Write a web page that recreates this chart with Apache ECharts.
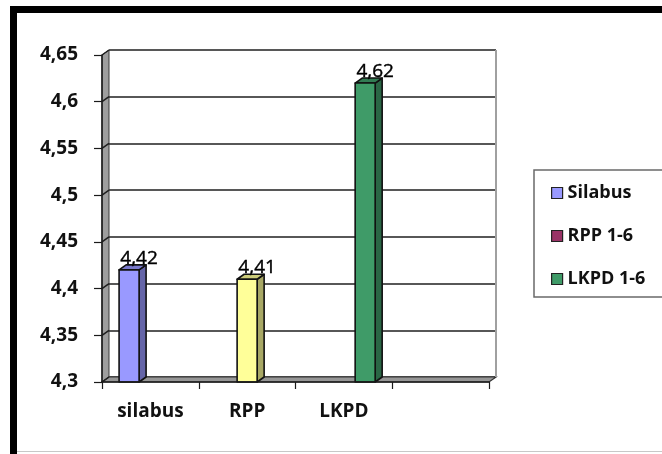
<!DOCTYPE html>
<html>
<head>
<meta charset="utf-8">
<script src="https://cdn.jsdelivr.net/npm/echarts@6/dist/echarts.min.js"></script>
<style>
  html, body { margin: 0; padding: 0; background: #fff; }
  #chart { width: 662px; height: 454px; }
</style>
</head>
<body>
<div id="chart"></div>
<script>
// Categories on the horizontal axis (the last slot is left empty)
const categories = ['silabus', 'RPP', 'LKPD', ''];
// Legend / series names
const seriesNames = ['Silabus', 'RPP 1-6', 'LKPD 1-6'];
// Values per series, one entry per category
const silabusValues = [4.42, null, null, null];
const rppValues = [null, 4.41, null, null];
const lkpdValues = [null, null, 4.62, null];
// Value axis
const yMin = 4.3, yMax = 4.65, yStep = 0.05;
const yTickLabels = ['4,3', '4,35', '4,4', '4,45', '4,5', '4,55', '4,6', '4,65'];

// ---- styling ----
const FONT = "'Open Sans', sans-serif";
const FRONT = { left: 102, top: 55, width: 387, height: 327 };
const DX = 7, DY = -5;            // depth offset of the 3D box
const SLOT_RATIO = 0.22;          // share of a category band per bar
const seriesColors = ['#9999ff', '#993366', '#3f9b68'];
const pointColors = { 'RPP 1-6': { 1: '#ffff99' } };

// scale rgb channels towards black
function shade(color, factor) {
  const c = echarts.color.parse(color);
  return 'rgb(' + [0, 1, 2].map(i => Math.round(c[i] * factor)).join(',') + ')';
}

function toData(name, values) {
  const out = [];
  values.forEach((v, i) => {
    if (v == null) return;
    const item = { value: [i, v] };
    const c = pointColors[name] && pointColors[name][i];
    if (c) item.itemStyle = { color: c };
    out.push(item);
  });
  return out;
}

function renderBar3D(params, api) {
  const cat = api.value(0), val = api.value(1);
  const band = api.size([1, 0])[0];
  const slot = band * SLOT_RATIO;
  const w = slot * 0.94;
  const base = api.coord([cat, yMin]);
  const top = api.coord([cat, val]);
  const x0 = base[0] + (params.seriesIndex - 1) * slot - w / 2;
  const x1 = x0 + w;
  const yT = top[1], yB = base[1];
  const color = api.visual('color');
  const side = shade(color, 0.66);
  const lid = shade(color, 0.8);
  const stroke = { stroke: '#111', lineWidth: 1.6, lineJoin: 'round' };
  const label = val.toFixed(2).replace('.', ',');
  return {
    type: 'group',
    children: [
      { type: 'polygon', shape: { points: [[x1, yT], [x1 + DX, yT + DY], [x1 + DX, yB + DY], [x1, yB]] },
        style: Object.assign({ fill: side }, stroke) },
      { type: 'polygon', shape: { points: [[x0, yT], [x0 + DX, yT + DY], [x1 + DX, yT + DY], [x1, yT]] },
        style: Object.assign({ fill: lid }, stroke) },
      { type: 'rect', shape: { x: x0, y: yT, width: w, height: yB - yT },
        style: Object.assign({ fill: color }, stroke) },
      { type: 'text', x: x0 + w / 2 + 10, y: yT + DY + 3,
        style: { text: label, font: '19px ' + FONT, fill: '#000', align: 'center', verticalAlign: 'bottom',
                 stroke: '#000', lineWidth: 0.4 } }
    ]
  };
}

const valueSets = [silabusValues, rppValues, lkpdValues];
const series = seriesNames.map((name, k) => ({
  name: name,
  type: 'custom',
  xAxisIndex: 0,
  yAxisIndex: 0,
  z: 5,
  itemStyle: { color: seriesColors[k] },
  encode: { x: 0, y: 1 },
  renderItem: renderBar3D,
  data: toData(name, valueSets[k])
}));

const chart = echarts.init(document.getElementById('chart'), null, { renderer: 'canvas' });

const option = {
  animation: false,
  backgroundColor: '#ffffff',
  grid: [
    { left: FRONT.left, top: FRONT.top, width: FRONT.width, height: FRONT.height },
    { left: FRONT.left + DX, top: FRONT.top + DY, width: FRONT.width, height: FRONT.height }
  ],
  xAxis: [
    {
      gridIndex: 0, type: 'category', data: categories, z: 6,
      axisLine: { lineStyle: { color: '#1a1a1a', width: 1.5 } },
      axisTick: { show: true, length: 7, alignWithLabel: false, lineStyle: { color: '#1a1a1a', width: 1.2 } },
      axisLabel: { margin: 20, color: '#111', fontFamily: FONT, fontWeight: 'bold', fontSize: 19 },
      splitLine: { show: false }
    },
    {
      gridIndex: 1, type: 'category', data: categories,
      axisLine: { show: false }, axisTick: { show: false }, axisLabel: { show: false }, splitLine: { show: false }
    }
  ],
  yAxis: [
    {
      gridIndex: 0, type: 'value', min: yMin, max: yMax, interval: yStep, z: 6,
      axisLine: { show: true, lineStyle: { color: '#1a1a1a', width: 1.5 } },
      axisTick: { show: true, length: 8, lineStyle: { color: '#1a1a1a', width: 1.2 } },
      axisLabel: {
        margin: 24, color: '#111', fontFamily: FONT, fontWeight: 'bold', fontSize: 19,
        formatter: (v, i) => yTickLabels[i]
      },
      splitLine: { show: false }
    },
    {
      gridIndex: 1, type: 'value', min: yMin, max: yMax, interval: yStep,
      axisLine: { show: false }, axisTick: { show: false }, axisLabel: { show: false },
      splitLine: { show: true, lineStyle: { color: '#1f1f1f', width: 1.6 } }
    }
  ],
  legend: {
    orient: 'vertical',
    left: 534, top: 170,
    padding: [14, 24, 9, 17],
    itemGap: 25,
    itemWidth: 11, itemHeight: 11,
    icon: 'rect',
    borderColor: '#6a6a6a', borderWidth: 1.5,
    itemStyle: { borderColor: '#222', borderWidth: 1.2 },
    textStyle: { fontFamily: FONT, fontWeight: 'bold', fontSize: 18, color: '#111' },
    data: seriesNames
  },
  series: series
};

chart.setOption(option);

// 3D walls, floor and outer frame, placed from the axis scale
const yPix = v => chart.convertToPixel({ yAxisIndex: 0 }, v);
const L = FRONT.left, R = FRONT.left + FRONT.width;
const yTop = yPix(yMax), yBot = yPix(yMin);
const graphics = [];
graphics.push({
  type: 'polygon', z: 1,
  shape: { points: [[L, yTop], [L + DX, yTop + DY], [L + DX, yBot + DY], [L, yBot]] },
  style: { fill: '#9e9e9e', stroke: '#3a3a3a', lineWidth: 1 }
});
graphics.push({
  type: 'polygon', z: 1,
  shape: { points: [[L, yBot], [L + DX, yBot + DY], [R + DX, yBot + DY], [R, yBot]] },
  style: { fill: '#969696', stroke: '#333', lineWidth: 1.2 }
});
graphics.push({
  type: 'line', z: 1,
  shape: { x1: R + DX, y1: yTop + DY, x2: R + DX, y2: yBot + DY },
  style: { stroke: '#a0a0a0', lineWidth: 2 }
});
for (let k = 0; k < yTickLabels.length; k++) {
  const y = yPix(yMin + k * yStep);
  graphics.push({
    type: 'line', z: 2,
    shape: { x1: L, y1: y, x2: L + DX, y2: y + DY },
    style: { stroke: '#1f1f1f', lineWidth: 1.5 }
  });
}
// outer frame
graphics.push({ type: 'rect', z: 100, shape: { x: 10, y: 6, width: 660, height: 7 }, style: { fill: '#000' } });
graphics.push({ type: 'rect', z: 100, shape: { x: 10, y: 6, width: 7, height: 460 }, style: { fill: '#000' } });
graphics.push({ type: 'rect', z: 100, shape: { x: 17, y: 451, width: 660, height: 1 }, style: { fill: '#c8c8c8' } });

chart.setOption({ graphic: { elements: graphics } });
</script>
</body>
</html>
